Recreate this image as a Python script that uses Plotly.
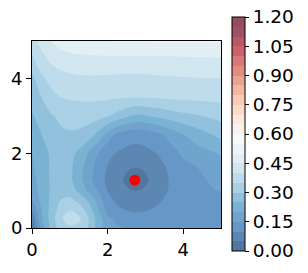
import plotly.graph_objects as go

# ---- data ----
x_vals = [0, 0.25, 0.5, 0.75, 1.0, 1.25, 1.5, 1.75, 2.0, 2.25, 2.5, 2.6, 2.75, 2.9, 3.0, 3.25, 3.5, 4.0, 4.5, 5.0]
y_vals = [0, 0.25, 0.5, 0.75, 1.0, 1.15, 1.3, 1.45, 1.6, 2.0, 2.5, 3.0, 3.5, 4.0, 4.5, 5.0]

z_y000 = [0.02, 0.175, 0.26, 0.32, 0.34, 0.33, 0.295, 0.225, 0.18, 0.158, 0.148, 0.143, 0.138, 0.134, 0.132, 0.126, 0.12, 0.115, 0.11, 0.11]
z_y025 = [0.06, 0.19, 0.27, 0.34, 0.38, 0.36, 0.30, 0.225, 0.16, 0.135, 0.122, 0.118, 0.115, 0.115, 0.116, 0.118, 0.12, 0.12, 0.12, 0.122]
z_y050 = [0.11, 0.20, 0.265, 0.32, 0.345, 0.325, 0.275, 0.20, 0.13, 0.108, 0.096, 0.094, 0.093, 0.094, 0.096, 0.104, 0.113, 0.128, 0.134, 0.14]
z_y075 = [0.15, 0.215, 0.26, 0.30, 0.31, 0.285, 0.24, 0.18, 0.115, 0.09, 0.076, 0.073, 0.0716, 0.073, 0.076, 0.088, 0.103, 0.128, 0.138, 0.144]
z_y100 = [0.17, 0.22, 0.255, 0.285, 0.28, 0.235, 0.19, 0.145, 0.098, 0.074, 0.058, 0.053, 0.048, 0.053, 0.058, 0.074, 0.094, 0.128, 0.142, 0.152]
z_y115 = [0.175, 0.222, 0.255, 0.28, 0.27, 0.225, 0.178, 0.135, 0.092, 0.069, 0.048, 0.035, 0.0275, 0.035, 0.048, 0.069, 0.092, 0.127, 0.144, 0.158]
z_y130 = [0.18, 0.225, 0.255, 0.275, 0.262, 0.215, 0.165, 0.125, 0.089, 0.067, 0.041, 0.027, 0.02, 0.027, 0.041, 0.067, 0.093, 0.125, 0.146, 0.165]
z_y145 = [0.185, 0.228, 0.255, 0.273, 0.262, 0.218, 0.17, 0.128, 0.092, 0.069, 0.048, 0.035, 0.0275, 0.035, 0.048, 0.069, 0.094, 0.128, 0.15, 0.172]
z_y160 = [0.19, 0.23, 0.255, 0.272, 0.262, 0.22, 0.175, 0.132, 0.096, 0.074, 0.058, 0.053, 0.049, 0.053, 0.058, 0.074, 0.096, 0.132, 0.155, 0.18]
z_y200 = [0.20, 0.235, 0.255, 0.27, 0.265, 0.24, 0.195, 0.15, 0.112, 0.097, 0.088, 0.086, 0.0845, 0.086, 0.088, 0.098, 0.11, 0.16, 0.185, 0.205]
z_y250 = [0.225, 0.25, 0.27, 0.29, 0.295, 0.29, 0.275, 0.235, 0.18, 0.14, 0.122, 0.117, 0.115, 0.117, 0.12, 0.135, 0.155, 0.20, 0.235, 0.265]
z_y300 = [0.245, 0.27, 0.295, 0.31, 0.318, 0.322, 0.322, 0.318, 0.305, 0.285, 0.262, 0.252, 0.242, 0.245, 0.248, 0.258, 0.268, 0.288, 0.30, 0.315]
z_y350 = [0.27, 0.30, 0.335, 0.35, 0.356, 0.358, 0.359, 0.359, 0.358, 0.356, 0.354, 0.353, 0.352, 0.353, 0.354, 0.356, 0.358, 0.361, 0.363, 0.365]
z_y400 = [0.285, 0.34, 0.365, 0.38, 0.388, 0.392, 0.393, 0.393, 0.392, 0.39, 0.388, 0.389, 0.39, 0.39, 0.39, 0.392, 0.394, 0.397, 0.399, 0.40]
z_y450 = [0.34, 0.38, 0.41, 0.425, 0.432, 0.436, 0.437, 0.437, 0.437, 0.436, 0.435, 0.435, 0.435, 0.436, 0.436, 0.437, 0.438, 0.44, 0.442, 0.443]
z_y500 = [0.37, 0.42, 0.452, 0.47, 0.48, 0.485, 0.49, 0.495, 0.50, 0.505, 0.505, 0.505, 0.505, 0.505, 0.505, 0.505, 0.505, 0.505, 0.505, 0.505]

point_x = [2.72]
point_y = [1.28]

axis_ticks = [0, 2, 4]
cbar_ticks = [0.0, 0.15, 0.30, 0.45, 0.60, 0.75, 0.90, 1.05, 1.20]
cbar_labels = ["0.00", "0.15", "0.30", "0.45", "0.60", "0.75", "0.90", "1.05", "1.20"]

z_grid = [z_y000, z_y025, z_y050, z_y075, z_y100, z_y115, z_y130, z_y145, z_y160,
          z_y200, z_y250, z_y300, z_y350, z_y400, z_y450, z_y500]

# ---- style: RdBu_r with alpha 0.7 over white ----
rdbu_r = [(5, 48, 97), (33, 102, 172), (67, 147, 195), (146, 197, 222), (209, 229, 240),
          (247, 247, 247), (253, 219, 199), (244, 165, 130), (214, 96, 77), (178, 24, 43), (103, 0, 31)]
alpha = 0.7
colorscale = []
for i, c in enumerate(rdbu_r):
    r, g, b = [round(alpha * v + (1 - alpha) * 255) for v in c]
    colorscale.append([i / 10, f"rgb({r},{g},{b})"])

font_family = "DejaVu Sans"

# page body has an 8px margin, so figure coords = page coords - 8
W, H = 300, 265
L, R, T, B = 24, 213, 33, 220
pw, ph = R - L, B - T
cb_top, cb_bot, cb_left = 9, 243, 224

# keep the end tick just inside the colorbar range (float rounding)
cbar_tick_pos = [min(v, 1.2 - 1e-6) for v in cbar_ticks]

fig = go.Figure()
fig.add_trace(go.Contour(
    x=x_vals, y=y_vals, z=z_grid,
    zmin=0, zmax=1.2,
    colorscale=colorscale,
    contours=dict(start=0, end=1.2, size=0.05, coloring="fill", showlines=False),
    line=dict(width=0, smoothing=1.0),
    colorbar=dict(
        thickness=13, thicknessmode="pixels",
        len=(cb_bot - cb_top) / ph, lenmode="fraction",
        x=(cb_left - L) / pw, xanchor="left",
        y=(B - (cb_top + cb_bot) / 2) / ph, yanchor="middle",
        xpad=0, ypad=0,
        outlinewidth=1, outlinecolor="black",
        tickmode="array", tickvals=cbar_tick_pos, ticktext=cbar_labels,
        ticks="outside", ticklen=4, tickcolor="black",
        ticklabeloverflow="allow",
        tickfont=dict(size=18.5, family=font_family, color="black"),
    ),
))
fig.add_trace(go.Scatter(
    x=point_x, y=point_y, mode="markers",
    marker=dict(color="red", size=11, line=dict(width=0)),
    showlegend=False, hoverinfo="skip",
))

axis_common = dict(
    range=[0, 5], tickmode="array", tickvals=axis_ticks,
    ticks="outside", ticklen=5, tickcolor="black",
    showline=True, mirror=True, linecolor="black", linewidth=1,
    showgrid=False, zeroline=False, automargin=False,
    tickfont=dict(size=18, family=font_family, color="black"),
)
fig.update_layout(
    width=W, height=H,
    margin=dict(l=L, r=W - R, t=T, b=H - B, autoexpand=False),
    paper_bgcolor="white", plot_bgcolor="white",
    xaxis=axis_common, yaxis=axis_common,
    showlegend=False,
)
fig.write_html("out.html")
